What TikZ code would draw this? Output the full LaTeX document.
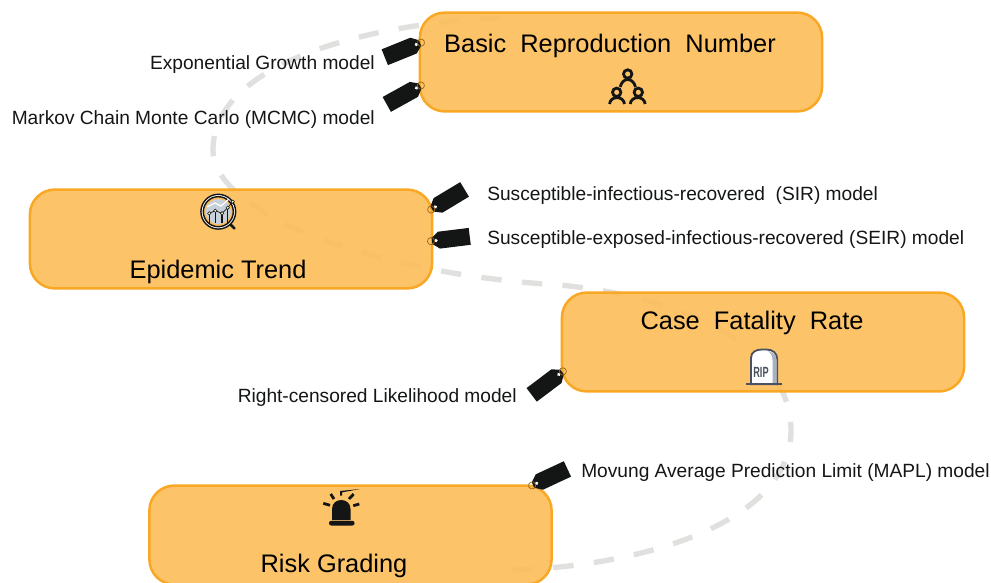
\documentclass[tikz,border=0pt]{standalone}
\usepackage{fontspec}
\setmainfont{Liberation Sans}
\usetikzlibrary{positioning}
\definecolor{boxfill}{HTML}{FDBD58}
\definecolor{boxline}{HTML}{F9A825}
\definecolor{trackgray}{HTML}{E0E0DE}
\definecolor{tagblack}{HTML}{141616}
\definecolor{lensgray}{HTML}{C6D1DC}
\definecolor{stonegray}{HTML}{A9B2BD}
\definecolor{stoneline}{HTML}{4A5160}
\tikzset{
    stagebox/.style={draw=boxline, line width=1.8pt, fill=boxfill, fill opacity=0.9,
        rounded corners=0.62cm, minimum width=10.05cm, minimum height=2.47cm},
    stagetitle/.style={font=\fontsize{18.05}{20}\selectfont, text=black},
    modellabel/.style={font=\fontsize{13.62}{16}\selectfont, text=tagblack, inner sep=0pt},
    pics/modeltag/.style={code={
        \fill[tagblack] (0,-3) -- (7,-8.5) -- (38,-8.5) -- (38,8.5) -- (7,8.5) -- (0,3) -- cycle;
        \fill[white] (4,0) circle[radius=1.8];
        \draw[boxline!60!black, line width=0.5pt] (-1,0) circle[radius=3.6];
    }},
}
\begin{document}
\begin{tikzpicture}[x=0.025cm, y=-0.025cm]
\clip (0,0) rectangle (991,583);

% track behind the boxes
\coordinate (trackA) at (500,18);
\coordinate (trackB) at (213,150);
\coordinate (trackC) at (560,285);
\coordinate (trackD) at (791,430);
\coordinate (trackE) at (500,570);
\draw[trackgray, line width=3.8pt, dash pattern=on 14.5pt off 14.5pt]
    (trackA) .. controls (380,22) and (213,60) .. (trackB)
    .. controls (213,215) and (380,275) .. (trackC)
    .. controls (710,300) and (791,360) .. (trackD)
    .. controls (791,530) and (620,570) .. (trackE);

\node[stagebox] (basic) at (621,62) {};
\node[stagebox] (trend) at (231,239) {};
\node[stagebox] (fatality) at (763,342) {};
\node[stagebox] (risk) at (350.5,535) {};

\node[stagetitle] (basictitle) at (610,46) {Basic\ \ Reproduction\ \ Number};
\node[stagetitle] (trendtitle) at (218,272) {Epidemic Trend};
\node[stagetitle] (fatalitytitle) at (752,323) {Case\ \ Fatality\ \ Rate};
\node[stagetitle] (risktitle) at (334,566) {Risk Grading};

% tags
\pic[rotate=202] (tagexp) at (420,43) {modeltag};
\pic[rotate=209] (tagmcmc) at (420,86) {modeltag};
\pic[rotate=31] (tagsir) at (432,209) {modeltag};
\pic[rotate=7] (tagseir) at (432,241) {modeltag};
\pic[rotate=217] (tagrcl) at (562,372) {modeltag};
\pic[rotate=25] (tagmapl) at (533,485) {modeltag};

\node[modellabel, anchor=east] (labexp) at (375,65) {Exponential Growth model};
\node[modellabel, anchor=east] (labmcmc) at (375,120) {Markov Chain Monte Carlo (MCMC) model};
\node[modellabel, anchor=west] (labsir) at (487,196) {Susceptible-infectious-recovered\ \ (SIR) model};
\node[modellabel, anchor=west] (labseir) at (487,240) {Susceptible-exposed-infectious-recovered (SEIR) model};
\node[modellabel, anchor=east] (labrcl) at (517,398) {Right-censored Likelihood model};
\node[modellabel, anchor=west] (labmapl) at (581,473) {Movung Average Prediction Limit (MAPL) model};

% people icon
\begin{scope}[tagblack, line width=2pt]
    \foreach \x/\y in {627.7/74,616.7/92.3,638.3/92.3}{
        \draw (\x,\y) circle[radius=4.2];
    }
    \foreach \x in {617,637.7}{
        \draw (\x-7.5,104) .. controls (\x-6.5,95.5) and (\x+6.5,95.5) .. (\x+7.5,104);
    }
    \draw (620.2,87) .. controls (622.5,77) and (633,77) .. (635.5,87);
\end{scope}

% lens icon
\begin{scope}
    \draw[tagblack, line width=2pt, line cap=round] (229,223) -- (234.5,228.5);
    \draw[tagblack, line width=1pt, fill=white] (218.3,211.7) circle[radius=17.4];
    \draw[tagblack, line width=1pt, fill=boxfill] (218.3,211.7) circle[radius=15];
    \fill[lensgray] (218.3,211.7) circle[radius=12.6];
    \draw[white, line width=0.9pt] (207,207) -- (215,203) -- (221,206) -- (229,199);
    \foreach \x/\y in {209.3/213.3,215.3/210.7,222/213.3,227.7/207.7}{
        \draw[tagblack, line width=0.8pt] (\x,\y) -- (\x,223);
    }
    \draw[tagblack, line width=0.5pt] (209.3,213.3) -- (215.3,210.7) -- (222,213.3) -- (227.7,207.7) -- (232.7,201.7);
    \foreach \x/\y in {209.3/213.3,215.3/210.7,222/213.3,227.7/207.7,232.7/201.7}{
        \draw[tagblack, line width=0.4pt, fill=white!80!yellow] (\x,\y) circle[radius=1.7];
    }
\end{scope}

% stone icon
\begin{scope}
    \draw[stoneline, line width=1.3pt, fill=white] (751,384.3) -- (751,358) .. controls (751,352) and (756,349.5) .. (762,349.5)
        -- (766,349.5) .. controls (773,349.5) and (777.3,353) .. (777.3,360) -- (777.3,384.3) -- cycle;
    \fill[stonegray] (768,351) .. controls (772,352) and (776.6,355) .. (776.6,360) -- (776.6,383.8) -- (772.5,383.8) -- (772.5,360) .. controls (772.5,356) and (771,353) .. (768,351);
    \draw[stoneline, line width=1.6pt] (746,384.3) -- (781.7,384.3);
    \node[font=\bfseries\fontsize{10.5}{10}\selectfont, text=stoneline, xscale=0.62, inner sep=0pt] (riptext) at (761,372) {RIP};
\end{scope}

% siren icon
\begin{scope}
    \fill[tagblack] (332,520) -- (332,509) .. controls (332,497) and (350.5,497) .. (350.5,509) -- (350.5,520) -- cycle;
    \fill[tagblack, rounded corners=1.5pt] (329,520.8) rectangle (354.5,525.5);
    \draw[tagblack, line width=2pt] (330.7,494) -- (334,499);
    \draw[tagblack, line width=2pt] (323.3,503.3) -- (330,505.3);
    \draw[tagblack, line width=2pt] (349,499) -- (353.7,494);
    \draw[tagblack, line width=2pt] (353.3,505.7) -- (359.3,504);
    \fill[tagblack] (340.2,495.5) -- (340.2,491) -- (360,489) -- (342,492.4) -- (342,495.5) -- cycle;
\end{scope}

\end{tikzpicture}
\end{document}
